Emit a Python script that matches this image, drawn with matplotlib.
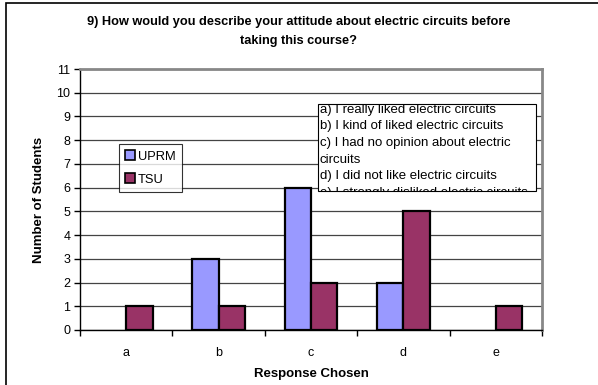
import numpy as np
import matplotlib
matplotlib.use('agg')
import matplotlib.pyplot as plt
from matplotlib.patches import Rectangle

plt.rcParams['font.family'] = ['Liberation Sans', 'DejaVu Sans']

responses = ['a', 'b', 'c', 'd', 'e']
uprm = [0, 3, 6, 2, 0]
tsu = [1, 1, 2, 5, 1]
choices = ['a) I really liked electric circuits',
           'b) I kind of liked electric circuits',
           'c) I had no opinion about electric',
           'circuits',
           'd) I did not like electric circuits',
           'e) I strongly disliked electric circuits']

W, H = 598, 385
fig = plt.figure(figsize=(W / 100, H / 100), dpi=100)
ax = fig.add_axes([80 / W, 1 - 330 / H, 462 / W, 261 / H])

x = np.arange(len(responses))
w = 1 / 3.5
for vals, off, col, name in [(uprm, -w / 2, '#9999FF', 'UPRM'), (tsu, w / 2, '#993366', 'TSU')]:
    bars = ax.bar(x + off, vals, w, color=col, edgecolor='black', linewidth=1.6, label=name, zorder=3)
    for b, v in zip(bars, vals):
        if v == 0:
            b.set_linewidth(0)

ax.set_xlim(-0.5, len(responses) - 0.5)
ax.set_ylim(0, 11)
ax.set_yticks(range(12))
ax.set_xticks(x)
ax.set_xticklabels(responses)
ax.set_xticks(np.arange(-0.5, len(responses)), minor=True)
ax.tick_params(axis='x', which='major', length=0, pad=12, labelsize=9)
ax.tick_params(axis='x', which='minor', length=4, direction='out', width=1)
ax.tick_params(axis='y', length=4, direction='out', width=1, labelsize=9, pad=3)
ax.yaxis.grid(True, color='#444444', linewidth=0.9, zorder=0)
ax.set_axisbelow(True)

for s in ['top', 'right']:
    ax.spines[s].set_color('#888888')
    ax.spines[s].set_linewidth(2)
for s in ['left', 'bottom']:
    ax.spines[s].set_color('black')
    ax.spines[s].set_linewidth(1)

ax.set_xlabel('Response Chosen', fontsize=9.5, fontweight='bold', labelpad=7)
ax.set_ylabel('Number of Students', fontsize=9.5, fontweight='bold', labelpad=8)

fig.text(0.5, 1 - 22 / H, '9) How would you describe your attitude about electric circuits before',
         ha='center', va='center', fontsize=9.2, fontweight='bold')
fig.text(0.5, 1 - 41 / H, 'taking this course?',
         ha='center', va='center', fontsize=9.2, fontweight='bold')

leg = fig.legend(loc='upper left', bbox_to_anchor=(119 / W, 1 - 144 / H), fontsize=9.3,
                 frameon=True, fancybox=False, edgecolor='black', handlelength=0.7,
                 handleheight=0.7, handletextpad=0.25, borderpad=0.5, labelspacing=0.85,
                 borderaxespad=0)
leg.get_frame().set_linewidth(0.8)
for h in leg.legend_handles:
    h.set_linewidth(1.2)

# answer key box, clipped like a fixed-size text box
bx0, by0, bx1, by1 = 318, 104, 536, 191
box = Rectangle((bx0 / W, 1 - by1 / H), (bx1 - bx0) / W, (by1 - by0) / H,
                transform=fig.transFigure, facecolor='white', edgecolor='black',
                linewidth=0.8, zorder=5)
fig.add_artist(box)
for i, line in enumerate(choices):
    t = fig.text((bx0 + 2) / W, 1 - (109.5 + i * 16.75) / H, line, ha='left', va='center',
                 fontsize=9.5, zorder=6)
    t.set_clip_path(box)

# outer chart border
fig.add_artist(Rectangle((6 / W, -0.1), 1.2, 1 - 3 / H + 0.1, transform=fig.transFigure,
                         fill=False, edgecolor='black', linewidth=1.2))

fig.savefig('out.png', dpi=100)
